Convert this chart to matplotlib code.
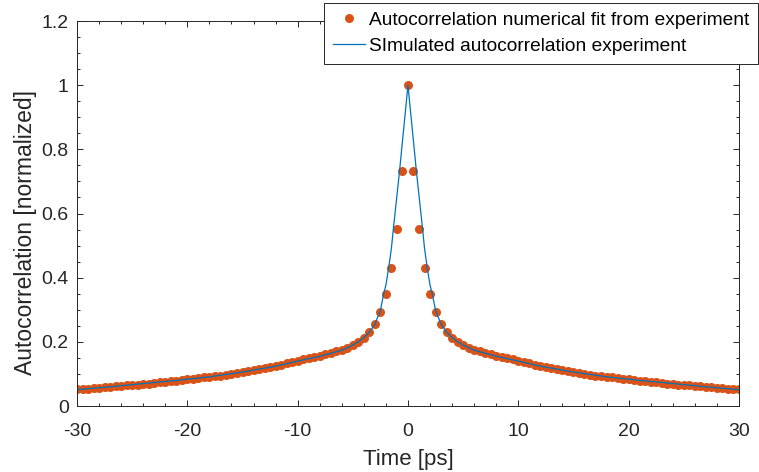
'''autocorrelation: numerical fit vs simulated trace'''

import numpy as np
import matplotlib
matplotlib.use("Agg")
import matplotlib.pyplot as plt
from matplotlib.ticker import MultipleLocator, FixedLocator

plt.rcParams['font.family'] = ['Liberation Sans', 'DejaVu Sans']
plt.rcParams['axes.unicode_minus'] = False

# fit points, sampled every 0.5 ps from -30 to 30
fit_time = np.arange(-30, 30.5, 0.5)
fit_acf = [0.052, 0.053, 0.054, 0.056, 0.057, 0.058, 0.060, 0.061, 0.063, 0.064,
           0.066, 0.067, 0.069, 0.070, 0.072, 0.074, 0.076, 0.077, 0.079, 0.081,
           0.083, 0.085, 0.087, 0.089, 0.091, 0.093, 0.095, 0.098, 0.100, 0.103,
           0.106, 0.109, 0.112, 0.115, 0.118, 0.122, 0.125, 0.129, 0.133, 0.137,
           0.141, 0.145, 0.149, 0.153, 0.157, 0.162, 0.166, 0.171, 0.176, 0.182,
           0.189, 0.198, 0.211, 0.230, 0.256, 0.294, 0.349, 0.429, 0.551, 0.731,
           1.000,
           0.731, 0.551, 0.429, 0.349, 0.294, 0.256, 0.230, 0.211, 0.198, 0.189,
           0.182, 0.176, 0.171, 0.166, 0.162, 0.157, 0.153, 0.149, 0.145, 0.141,
           0.137, 0.133, 0.129, 0.125, 0.122, 0.118, 0.115, 0.112, 0.109, 0.106,
           0.103, 0.100, 0.098, 0.095, 0.093, 0.091, 0.089, 0.087, 0.085, 0.083,
           0.081, 0.079, 0.077, 0.076, 0.074, 0.072, 0.070, 0.069, 0.067, 0.066,
           0.064, 0.063, 0.061, 0.060, 0.058, 0.057, 0.056, 0.054, 0.053, 0.052]

# simulated trace
sim_time = [-30, -27, -24, -21, -18, -15, -12, -10, -8, -6, -5, -4.5, -4, -3.5,
            -3, -2.5, -2.2, -2, -1.75, -1.5, -1.33, -1, -0.77, -0.5, -0.25,
            0,
            0.25, 0.5, 0.77, 1, 1.33, 1.5, 1.75, 2, 2.2, 2.5, 3, 3.5, 4, 4.5,
            5, 6, 8, 10, 12, 15, 18, 21, 24, 27, 30]
sim_acf = [0.051, 0.060, 0.070, 0.080, 0.091, 0.106, 0.124, 0.140, 0.155, 0.174,
           0.190, 0.200, 0.213, 0.230, 0.255, 0.298, 0.350, 0.377, 0.430, 0.492,
           0.550, 0.656, 0.730, 0.825, 0.912,
           1.000,
           0.912, 0.825, 0.730, 0.656, 0.550, 0.492, 0.430, 0.377, 0.350, 0.298,
           0.255, 0.230, 0.213, 0.200, 0.190, 0.174, 0.155, 0.140, 0.124, 0.106,
           0.091, 0.080, 0.070, 0.060, 0.051]

xticks = [-30, -20, -10, 0, 10, 20, 30]
yticks = [0, 0.2, 0.4, 0.6, 0.8, 1, 1.2]
yticklabels = ["0", "0.2", "0.4", "0.6", "0.8", "1", "1.2"]

fig = plt.figure(figsize=(7.59, 4.72), dpi=100)
ax = fig.add_axes([0.1015, 0.1398, 0.872, 0.8157])

ax.plot(fit_time, fit_acf, 'o', color='#D95319', markersize=6.5, markeredgewidth=0,
        label='Autocorrelation numerical fit from experiment')
ax.plot(sim_time, sim_acf, '-', color='#0072BD', linewidth=0.9,
        label='SImulated autocorrelation experiment')

ax.set_xlim(-30, 30)
ax.set_ylim(0, 1.2)
ax.xaxis.set_major_locator(FixedLocator(xticks))
ax.set_xticklabels([str(t) for t in xticks])
ax.xaxis.set_minor_locator(MultipleLocator(2))
ax.yaxis.set_major_locator(FixedLocator(yticks))
ax.set_yticklabels(yticklabels)
ax.yaxis.set_minor_locator(MultipleLocator(0.05))

axcol = '#262626'
for s in ax.spines.values():
    s.set_color(axcol)
    s.set_linewidth(0.7)
ax.tick_params(which='both', direction='in', top=True, right=True, colors=axcol,
               labelsize=14, width=0.7)
ax.tick_params(which='major', length=4.5)
ax.tick_params(which='minor', length=2.5)
ax.tick_params(axis='x', which='major', pad=12)
ax.tick_params(axis='y', which='major', pad=6)

ax.set_xlabel('Time [ps]', fontsize=16, color=axcol, labelpad=7)
ax.set_ylabel('Autocorrelation [normalized]', fontsize=16.5, color=axcol)
ax.yaxis.set_label_coords(-0.06, 0.45)

leg = fig.legend(loc='upper right', bbox_to_anchor=(0.9987, 0.9936), fontsize=13.75,
                 frameon=True, fancybox=False, edgecolor=axcol, framealpha=1,
                 borderpad=0.45, labelspacing=0.45, handlelength=1.7,
                 handletextpad=0.2, borderaxespad=0)
leg.get_frame().set_linewidth(0.7)

fig.savefig('out.png', dpi=100)
